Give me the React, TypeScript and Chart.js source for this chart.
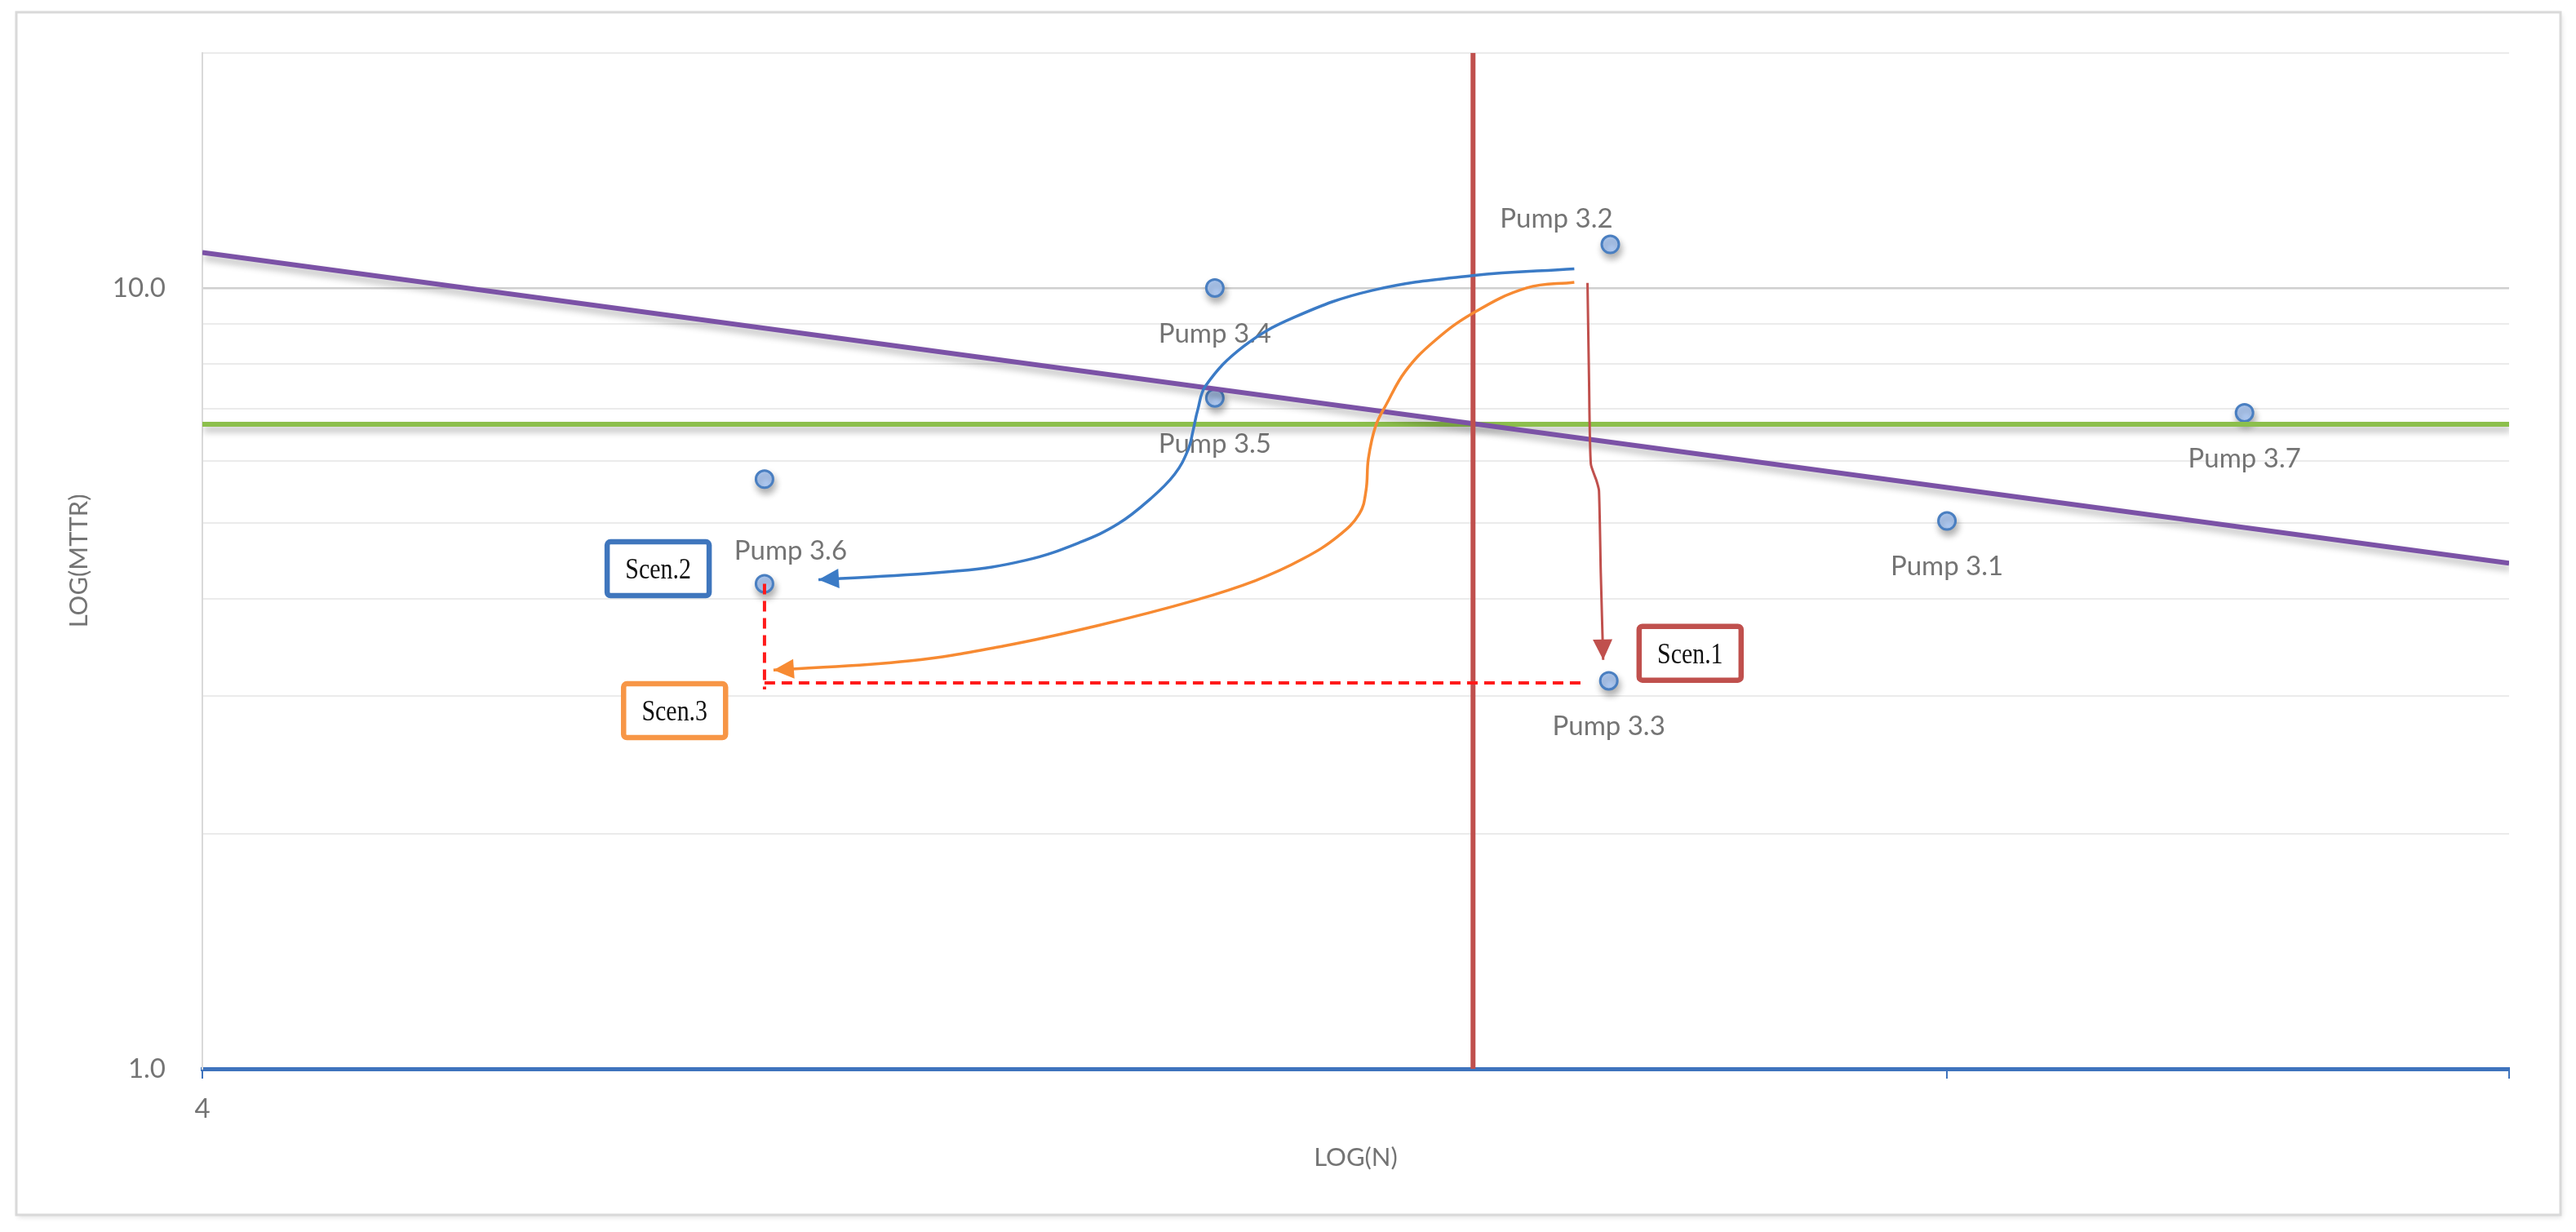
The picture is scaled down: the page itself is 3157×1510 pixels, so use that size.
import { useEffect, useRef } from 'react';
import { Chart, registerables } from 'chart.js';

Chart.register(...registerables);

// ---------------- data ----------------
const pumpNames = ['Pump 3.1', 'Pump 3.2', 'Pump 3.3', 'Pump 3.4', 'Pump 3.5', 'Pump 3.6', 'Pump 3.7', ''];
const pumpN = [40.0, 25.65, 25.6, 15.22, 15.22, 8.4, 59.24, 8.4];
const pumpMTTR = [5.03, 11.37, 3.14, 10.0, 7.23, 4.18, 6.92, 5.69];
const labelPlacement = ['below', 'above-left', 'below', 'below', 'below', 'above-right', 'below', 'none'];

const xMin = 4;
const xMax = 84;
const xTickValues = [4, 40, 84];
const xTickLabels = ['4', '', ''];

const yMin = 1;
const yMax = 20;
const yTickValues = [1, 2, 3, 4, 5, 6, 7, 8, 9, 10, 20];
const yTickLabels = ['1.0', '', '', '', '', '', '', '', '', '10.0', ''];

// trend line (purple) end points
const trendN = [4, 84];
const trendMTTR = [11.1, 4.44];
// horizontal threshold (green) and vertical threshold (red)
const thresholdMTTR = 6.69;
const thresholdN = 21.4;

// Scenario paths
const scen1N = [24.89, 24.94, 25.0, 25.19, 25.27, 25.33, 25.41];
const scen1MTTR = [10.15, 7.63, 5.95, 5.66, 5.5, 4.32, 3.34];

const scen2N = [24.46, 21.39, 18.74, 16.9, 15.8, 15.04, 14.88, 14.79, 14.69, 14.43, 13.98, 13.4, 12.73, 11.86, 10.84, 9.02];
const scen2MTTR = [10.58, 10.37, 9.93, 9.17, 8.41, 7.5, 6.98, 6.57, 6.2, 5.77, 5.37, 4.99, 4.72, 4.48, 4.34, 4.23];

const scen3N = [24.46, 22.97, 21.39, 20.31, 19.57, 19.09, 18.82, 18.64, 18.58, 18.42, 17.91, 17.1, 16.06, 14.82, 13.07, 11.52, 10.17, 8.5];
const scen3MTTR = [10.17, 10.0, 9.28, 8.53, 7.82, 7.1, 6.66, 6.05, 5.5, 5.14, 4.81, 4.5, 4.22, 3.98, 3.7, 3.48, 3.33, 3.24];

// red dashed helper path (null = gap)
const dashN = [8.4, 8.4, 8.4, 8.4, 24.79];
const dashMTTR = [4.18, 3.06, null, 3.12, 3.12];

// scenario labels
const scenLabels = ['Scen.1', 'Scen.2', 'Scen.3'];
const scenN = [28.5, 7.3, 7.46];
const scenMTTR = [3.405, 4.37, 2.875];
const scenColors = ['#c0504d', '#3f76bd', '#f79646'];

// ---------------- styling ----------------
const FONT = 'Lato';
const GRAY = '#747474';

const pts = (xs: number[], ys: (number | null)[]) => xs.map((x, i) => ({ x, y: ys[i] }));

const findLabel = (vals: number[], labels: string[], v: number) => {
  const i = vals.findIndex((t) => Math.abs(t - v) < 1e-6 * Math.max(1, t));
  return i >= 0 ? labels[i] : '';
};

export default function App() {
  const ref = useRef<HTMLCanvasElement>(null);

  useEffect(() => {
    const canvas = ref.current!;

    const plugin = {
      id: 'annotations',
      beforeDraw(chart: any) {
        const ctx = chart.ctx;
        ctx.save();
        ctx.shadowColor = 'rgba(0,0,0,0.12)';
        ctx.shadowBlur = 6;
        ctx.shadowOffsetX = 2;
        ctx.shadowOffsetY = 3;
        ctx.fillStyle = '#ffffff';
        ctx.fillRect(20, 15, 3118, 1474);
        ctx.restore();
        ctx.save();
        ctx.strokeStyle = '#d9d9d9';
        ctx.lineWidth = 3;
        ctx.strokeRect(20, 15, 3118, 1474);
        ctx.restore();
      },
      beforeDatasetDraw(chart: any, args: any) {
        const ds = chart.data.datasets[args.index];
        const ctx = chart.ctx;
        ctx.save();
        if (ds.shadow) {
          ctx.shadowColor = 'rgba(0,0,0,0.30)';
          ctx.shadowBlur = 9;
          ctx.shadowOffsetX = 2;
          ctx.shadowOffsetY = 6;
        }
      },
      afterDatasetDraw(chart: any, args: any) {
        const ctx = chart.ctx;
        ctx.restore();
        const ds = chart.data.datasets[args.index];
        const meta = chart.getDatasetMeta(args.index);
        if (ds.pumpLabels) {
          ctx.save();
          ctx.font = `33px ${FONT}`;
          ctx.fillStyle = GRAY;
          ctx.textAlign = 'center';
          ctx.textBaseline = 'alphabetic';
          meta.data.forEach((el: any, i: number) => {
            const place = labelPlacement[i];
            if (place === 'none' || !pumpNames[i]) return;
            let cx = el.x;
            let cy = el.y;
            if (place === 'below') cy += 55;
            else if (place === 'above-left') { cx -= 66; cy -= 32; }
            else if (place === 'above-right') { cx += 32; cy -= 41; }
            ctx.fillText(pumpNames[i], cx, cy + 33 * 0.36);
          });
          ctx.restore();
        }
        if (ds.arrow) {
          const els = meta.data;
          const last = els[els.length - 1];
          const prev = els[els.length - 2];
          let dx = last.x - prev.x;
          let dy = last.y - prev.y;
          const len = Math.hypot(dx, dy) || 1;
          dx /= len;
          dy /= len;
          const L = 25;
          const W = 12;
          const bx = last.x - dx * L;
          const by = last.y - dy * L;
          ctx.save();
          ctx.fillStyle = ds.borderColor;
          ctx.beginPath();
          ctx.moveTo(last.x, last.y);
          ctx.lineTo(bx - dy * W, by + dx * W);
          ctx.lineTo(bx + dy * W, by - dx * W);
          ctx.closePath();
          ctx.fill();
          ctx.restore();
        }
      },
      afterDraw(chart: any) {
        const ctx = chart.ctx;
        const xs = chart.scales.x;
        const ys = chart.scales.y;
        scenLabels.forEach((txt, i) => {
          const cx = xs.getPixelForValue(scenN[i]);
          const cy = ys.getPixelForValue(scenMTTR[i]);
          const w = 125;
          const h = 66;
          ctx.save();
          ctx.fillStyle = '#ffffff';
          ctx.strokeStyle = scenColors[i];
          ctx.lineWidth = 6.5;
          ctx.beginPath();
          ctx.roundRect(cx - w / 2, cy - h / 2, w, h, 4);
          ctx.fill();
          ctx.stroke();
          ctx.fillStyle = '#111111';
          ctx.font = '36px "Liberation Serif"';
          ctx.textAlign = 'center';
          ctx.textBaseline = 'alphabetic';
          ctx.translate(cx, cy + 12);
          ctx.scale(0.83, 1);
          ctx.fillText(txt, 0, 0);
          ctx.restore();
        });
      },
    };

    const lineBase = {
      type: 'line',
      pointRadius: 0,
      pointHoverRadius: 0,
      fill: false,
      borderCapStyle: 'butt',
      borderJoinStyle: 'round',
    };

    const chart = new Chart(canvas, {
      type: 'scatter',
      data: {
        datasets: [
          {
            label: 'Pumps',
            data: pts(pumpN, pumpMTTR),
            pointRadius: 10.5,
            pointHoverRadius: 10.5,
            pointBorderWidth: 3,
            pointBackgroundColor: '#b0cbf4',
            pointBorderColor: '#4a7fc1',
            shadow: true,
            pumpLabels: true,
            order: 6,
          } as any,
          {
            ...lineBase,
            label: 'MTTR threshold',
            data: pts([xMin, xMax], [thresholdMTTR, thresholdMTTR]),
            borderColor: '#8cbf4c',
            borderWidth: 6,
            shadow: true,
            order: 5,
          } as any,
          {
            ...lineBase,
            label: 'Trend',
            data: pts(trendN, trendMTTR),
            borderColor: '#7b52a6',
            borderWidth: 6,
            shadow: true,
            order: 4,
          } as any,
          {
            ...lineBase,
            label: 'N threshold',
            data: pts([thresholdN, thresholdN], [yMin, yMax]),
            borderColor: '#c0504d',
            borderWidth: 6,
            order: 3,
          } as any,
          {
            ...lineBase,
            label: 'Shift',
            data: pts(dashN, dashMTTR),
            borderColor: '#ff1a1a',
            borderWidth: 4,
            borderDash: [13, 8],
            spanGaps: false,
            order: 2,
          } as any,
          {
            ...lineBase,
            label: 'Scen.1',
            data: pts(scen1N, scen1MTTR),
            borderColor: '#c0504d',
            borderWidth: 3,
            tension: 0.2,
            arrow: true,
            order: 1,
          } as any,
          {
            ...lineBase,
            label: 'Scen.2',
            data: pts(scen2N, scen2MTTR),
            borderColor: '#3b7bc6',
            borderWidth: 3.5,
            tension: 0.4,
            arrow: true,
            order: 1,
          } as any,
          {
            ...lineBase,
            label: 'Scen.3',
            data: pts(scen3N, scen3MTTR),
            borderColor: '#f78a32',
            borderWidth: 3.5,
            tension: 0.4,
            arrow: true,
            order: 1,
          } as any,
        ],
      },
      options: {
        responsive: false,
        maintainAspectRatio: false,
        animation: false,
        devicePixelRatio: 1,
        events: [],
        layout: { padding: { left: 40, top: 62, right: 82, bottom: 40 } },
        plugins: {
          legend: { display: false },
          tooltip: { enabled: false },
          title: { display: false },
        },
        scales: {
          x: {
            type: 'logarithmic',
            position: 'bottom',
            min: xMin,
            max: xMax,
            afterBuildTicks: (s: any) => {
              s.ticks = xTickValues.map((v) => ({ value: v }));
            },
            afterFit: (s: any) => {
              s.height = 160;
            },
            border: { display: true, color: '#3e73bd', width: 5 },
            grid: {
              drawOnChartArea: false,
              drawTicks: true,
              tickLength: 12,
              color: '#3e73bd',
              lineWidth: 2,
            },
            ticks: {
              autoSkip: false,
              maxRotation: 0,
              padding: 18,
              color: GRAY,
              font: { family: FONT, size: 33 },
              callback: (v: any) => findLabel(xTickValues, xTickLabels, Number(v)),
            },
            title: {
              display: true,
              text: 'LOG(N)',
              color: GRAY,
              font: { family: FONT, size: 31 },
              padding: { top: 0, bottom: 32 },
            },
          },
          y: {
            type: 'logarithmic',
            position: 'left',
            min: yMin,
            max: yMax,
            afterBuildTicks: (s: any) => {
              s.ticks = yTickValues.map((v) => ({ value: v }));
            },
            afterFit: (s: any) => {
              s.width = 208;
            },
            border: { display: true, color: '#d9d9d9', width: 2 },
            grid: {
              drawTicks: false,
              color: (c: any) => {
                const v = c.tick ? c.tick.value : 0;
                if (Math.abs(v - 1) < 1e-9) return 'rgba(0,0,0,0)';
                if (Math.abs(v - 10) < 1e-9) return '#cfcfcf';
                return '#ebebeb';
              },
              lineWidth: (c: any) => (c.tick && Math.abs(c.tick.value - 10) < 1e-9 ? 2.5 : 2),
            },
            ticks: {
              autoSkip: false,
              padding: 45,
              color: GRAY,
              font: { family: FONT, size: 33 },
              callback: (v: any) => findLabel(yTickValues, yTickLabels, Number(v)),
            },
            title: {
              display: true,
              text: 'LOG(MTTR)',
              color: GRAY,
              font: { family: FONT, size: 31 },
              padding: { top: 38, bottom: 0 },
            },
          },
        },
      } as any,
      plugins: [plugin as any],
    });

    return () => chart.destroy();
  }, []);

  return (
    <div style={{ position: 'absolute', left: 0, top: 0, width: 3157, height: 1510, background: '#ffffff' }}>
      <canvas ref={ref} width={3157} height={1510} style={{ display: 'block', width: 3157, height: 1510 }} />
    </div>
  );
}
